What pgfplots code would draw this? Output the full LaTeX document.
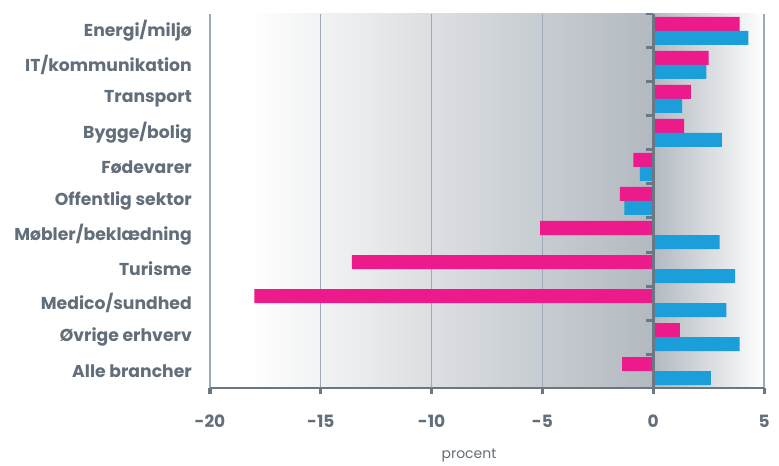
\documentclass[border=0pt]{standalone}
\usepackage{fontspec}
\setmainfont{Poppins}
\usepackage{pgfplots}
\pgfplotsset{compat=1.18}
\definecolor{mag}{RGB}{236,26,138}
\definecolor{blu}{RGB}{27,158,218}
\definecolor{txt}{RGB}{98,110,122}
\definecolor{axdark}{RGB}{108,119,132}
\definecolor{gridc}{RGB}{158,170,182}
\definecolor{bgmid}{RGB}{178,185,192}
\begin{document}
\begin{tikzpicture}
\begin{axis}[
  set layers,
  scale only axis, width=554bp, height=374bp,
  at={(0,0)}, anchor=south west,
  xmin=-20, xmax=5, ymin=-0.5, ymax=10.5,
  xbar, bar width=14bp,
  xtick={-20,-15,-10,-5,0,5},
  xticklabels={-20,-15,-10,-5,0,5},
  ytick={0,...,10},
  yticklabels={Alle brancher, Øvrige erhverv, Medico/sundhed, Turisme, Møbler/beklædning, Offentlig sektor, Fødevarer, Bygge/bolig, Transport, IT/kommunikation, Energi/miljø},
  axis line style={draw=none},
  xmajorgrids, grid style={gridc, line width=1.3bp},
  xtick pos=left,
  tick align=outside,
  major tick length=6bp,
  x tick style={axdark, line width=3bp},
  ytick style={draw=none},
  xticklabel style={font=\bfseries\fontsize{17}{19}\selectfont, text=txt, anchor=center, yshift=-27bp},
  yticklabel style={font=\bfseries\fontsize{17.3}{19}\selectfont, text=txt, anchor=east, inner sep=0pt, xshift=-12bp},
  xlabel={procent},
  xlabel style={at={(axis description cs:0.4675,0)}, anchor=center, yshift=-68bp, font=\fontsize{14}{16}\selectfont, text=txt},
]
\begin{pgfonlayer}{axis background}
  \fill[left color=white, right color=bgmid] (axis cs:-18.3,-0.5) rectangle (axis cs:0,10.5);
  \fill[left color=bgmid, right color=white] (axis cs:0,-0.5) rectangle (axis cs:5,10.5);
\end{pgfonlayer}
\addplot[fill=mag, draw=none, bar shift=7bp] coordinates {
  (-1.4,0) (1.2,1) (-18.0,2) (-13.6,3) (-5.1,4) (-1.5,5) (-0.9,6) (1.4,7) (1.7,8) (2.5,9) (3.9,10)};
\addplot[fill=blu, draw=none, bar shift=-7bp] coordinates {
  (2.6,0) (3.9,1) (3.3,2) (3.7,3) (3.0,4) (-1.3,5) (-0.6,6) (3.1,7) (1.3,8) (2.4,9) (4.3,10)};
\draw[axdark, line width=3bp] (axis cs:0,-0.5) -- (axis cs:0,10.5);
\pgfplotsinvokeforeach{-0.5,0.5,1.5,2.5,3.5,4.5,5.5,6.5,7.5,8.5,9.5,10.5}{
  \draw[axdark, line width=3bp] (axis cs:0,#1) -- ([xshift=-7bp]axis cs:0,#1);
}
\draw[axdark, line width=3bp] (axis cs:-20,-0.5) -- ([xshift=2bp]axis cs:5,-0.5);
\end{axis}
\path (-210bp,-75bp) rectangle (569bp,388bp);
\end{tikzpicture}
\end{document}
